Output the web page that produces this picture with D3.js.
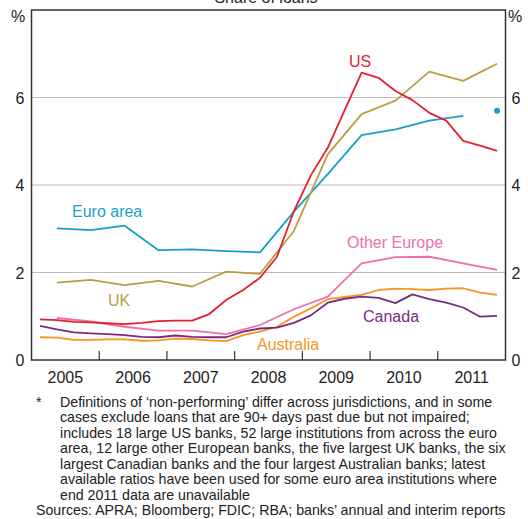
<!DOCTYPE html>
<html><head><meta charset="utf-8">
<script src="https://cdn.jsdelivr.net/npm/d3@7"></script>
<style>body{margin:0;background:#fff}svg{display:block;font-family:"Liberation Sans",Arial,sans-serif}</style>
</head><body><svg id="c" width="528" height="519"></svg>
<script>
// Quarterly time grid (mid-quarter positions), 2005 Q1 .. 2011 Q4
const years = [2005, 2006, 2007, 2008, 2009, 2010, 2011];
const quarters = years.flatMap(y => [0, 1, 2, 3].map(q => y + (q + 0.5) / 4));
// Half-yearly grid (Q2 and Q4)
const halves = years.flatMap(y => [y + 1.5 / 4, y + 3.5 / 4]);

const usValues = [0.93, 0.91, 0.87, 0.86, 0.84, 0.82, 0.85, 0.89, 0.90, 0.90, 1.05, 1.37,
  1.60, 1.88, 2.36, 3.40, 4.22, 4.85, 5.71, 6.57, 6.45, 6.15, 5.94, 5.65, 5.47, 5.01, 4.90, 4.78];
const canadaValues = [0.78, 0.70, 0.63, 0.61, 0.59, 0.57, 0.53, 0.52, 0.56, 0.53, 0.52, 0.52,
  0.65, 0.72, 0.74, 0.85, 1.02, 1.31, 1.40, 1.45, 1.42, 1.30, 1.50, 1.39, 1.31, 1.20, 0.99, 1.01];
const australiaValues = [0.52, 0.51, 0.46, 0.46, 0.47, 0.47, 0.44, 0.45, 0.49, 0.48, 0.45, 0.43,
  0.57, 0.65, 0.76, 0.99, 1.18, 1.39, 1.44, 1.49, 1.60, 1.63, 1.62, 1.60, 1.63, 1.64, 1.54, 1.49];
const ukValues = [1.77, 1.83, 1.71, 1.81, 1.68, 2.02, 1.97, 2.95, 4.70, 5.62, 5.93, 6.59, 6.38, 6.77];
const otherEuropeValues = [0.96, 0.88, 0.76, 0.67, 0.67, 0.59, 0.80, 1.16, 1.45, 2.21, 2.35, 2.36, 2.21, 2.06];
const euroValues = [3.01, 2.97, 3.07, 2.51, 2.53, 2.49, 2.46, 3.39, 4.25, 5.14, 5.27, 5.47, 5.58, null];
const euroLatest = 5.70; // end-2011 point shown as a dot

const yTicks = [0, 2, 4, 6];
const yearLabels = ["2005", "2006", "2007", "2008", "2009", "2010", "2011"];

const footnoteLines = [
  "Definitions of \u2018non-performing\u2019 differ across jurisdictions, and in some",
  "cases exclude loans that are 90+ days past due but not impaired;",
  "includes 18 large US banks, 52 large institutions from across the euro",
  "area, 12 large other European banks, the five largest UK banks, the six",
  "largest Canadian banks and the four largest Australian banks; latest",
  "available ratios have been used for some euro area institutions where",
  "end 2011 data are unavailable"
];
const sourcesText = "Sources: APRA; Bloomberg; FDIC; RBA; banks\u2019 annual and interim reports";

const colors = {us: "#e0232e", uk: "#b8a040", euro: "#189fc9", other: "#f06eaa", canada: "#7a2a7d", aus: "#f7941d"};

const svg = d3.select("#c");
const L = 31.5, R = 505.5, T = 10, B = 360;
const x = d3.scaleLinear().domain([2005, 2012]).range([L, R]);
const y = d3.scaleLinear().domain([0, 8]).range([B, T]);

// gridlines
svg.append("g").selectAll("line").data(yTicks.filter(d => d > 0)).join("line")
  .attr("x1", L).attr("x2", R).attr("y1", d => y(d)).attr("y2", d => y(d))
  .attr("stroke", "#bdbdbd").attr("stroke-width", 1.2);

const series = [
  {k: "aus", xs: quarters, v: australiaValues},
  {k: "canada", xs: quarters, v: canadaValues},
  {k: "other", xs: halves, v: otherEuropeValues},
  {k: "euro", xs: halves, v: euroValues},
  {k: "uk", xs: halves, v: ukValues},
  {k: "us", xs: quarters, v: usValues}
];
const line = d3.line().defined(d => d[1] != null).x(d => x(d[0])).y(d => y(d[1]));
series.forEach(s => {
  svg.append("path").datum(s.xs.map((t, i) => [t, s.v[i]]))
    .attr("d", line).attr("fill", "none").attr("stroke", colors[s.k])
    .attr("stroke-width", 1.8).attr("stroke-linejoin", "round");
});
svg.append("circle").attr("cx", x(halves[halves.length - 1])).attr("cy", y(euroLatest))
  .attr("r", 3).attr("fill", colors.euro);

// frame
svg.append("rect").attr("x", L).attr("y", T).attr("width", R - L).attr("height", B - T)
  .attr("fill", "none").attr("stroke", "#333").attr("stroke-width", 1.5);

// x ticks at year boundaries
svg.append("g").selectAll("line").data(d3.range(2006, 2012)).join("line")
  .attr("x1", d => x(d)).attr("x2", d => x(d)).attr("y1", B).attr("y2", B - 9)
  .attr("stroke", "#333").attr("stroke-width", 1.2);

const fs = 16;
svg.append("g").selectAll("text").data(yearLabels).join("text")
  .attr("x", (d, i) => x(years[i] + 0.5)).attr("y", B + 23).attr("text-anchor", "middle")
  .attr("font-size", fs).attr("fill", "#222").text(d => d);

svg.append("g").selectAll("text").data(yTicks).join("text")
  .attr("x", L - 7).attr("y", d => y(d) + 6).attr("text-anchor", "end")
  .attr("font-size", fs).attr("fill", "#222").text(d => d);
svg.append("g").selectAll("text").data(yTicks).join("text")
  .attr("x", R + 6).attr("y", d => y(d) + 6).attr("text-anchor", "start")
  .attr("font-size", fs).attr("fill", "#222").text(d => d);
svg.append("text").attr("x", 18).attr("y", 22).attr("text-anchor", "middle").attr("font-size", fs).attr("fill", "#222").text("%");
svg.append("text").attr("x", 515).attr("y", 22).attr("text-anchor", "middle").attr("font-size", fs).attr("fill", "#222").text("%");

svg.append("text").attr("x", 266).attr("y", 3).attr("text-anchor", "middle").attr("font-size", fs).attr("fill", "#222").text("Share of loans");

const labels = [
  {t: "US", c: "us", x: 349, y: 67},
  {t: "UK", c: "uk", x: 108, y: 306},
  {t: "Euro area", c: "euro", x: 72, y: 217},
  {t: "Other Europe", c: "other", x: 347, y: 248},
  {t: "Canada", c: "canada", x: 363, y: 322},
  {t: "Australia", c: "aus", x: 257, y: 350}
];
svg.append("g").selectAll("text").data(labels).join("text")
  .attr("x", d => d.x).attr("y", d => d.y).attr("font-size", fs)
  .attr("fill", d => colors[d.c]).text(d => d.t);

const fn = svg.append("g").attr("font-size", 14.2).attr("fill", "#222");
const fy0 = 406.5, fdy = 15.5;
fn.append("text").attr("x", 36).attr("y", fy0).text("*");
fn.selectAll("text.l").data(footnoteLines).join("text").attr("class", "l")
  .attr("x", 60).attr("y", (d, i) => fy0 + i * fdy).text(d => d);
fn.append("text").attr("x", 36).attr("y", fy0 + 7 * fdy).text(sourcesText);
</script></body></html>
